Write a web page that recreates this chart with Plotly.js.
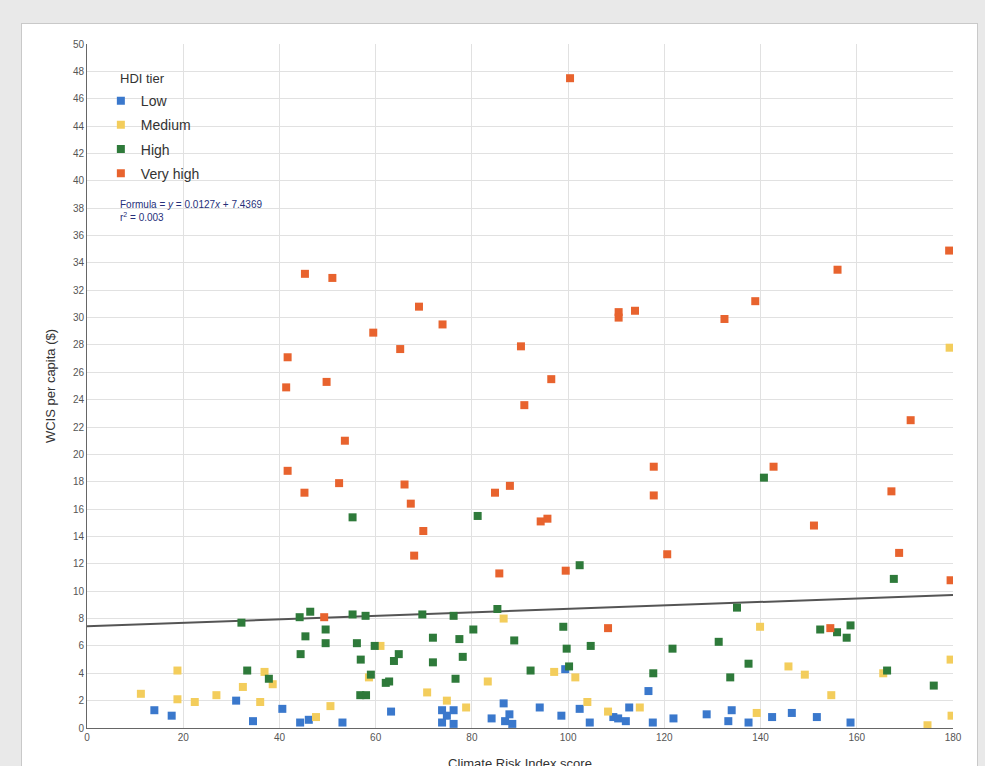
<!DOCTYPE html>
<html>
<head>
<meta charset="utf-8">
<script src="https://cdn.plot.ly/plotly-3.0.1.min.js"></script>
<style>
  html, body { margin: 0; padding: 0; background: #e9e9e9; overflow: hidden; }
  #card { position: absolute; left: 21px; top: 23px; width: 955px; height: 770px; background: #fff; border: 1px solid #c9c9c9; }
  #chart { width: 955px; height: 770px; }
</style>
</head>
<body>
<div id="card"><div id="chart"></div></div>
<script>
// Climate Risk Index score (x) vs WCIS per capita in $ (y), by HDI tier
const lowX = [14.0,17.6,31.0,34.5,40.6,44.3,46.1,53.1,63.2,73.8,76.2,73.8,76.2,74.8,84.1,86.6,86.9,88.4,87.8,94.1,98.6,99.4,102.4,104.5,109.4,110.4,112.0,112.7,116.7,117.6,121.9,128.8,134.0,133.3,137.5,142.4,146.5,151.7,158.7];
const lowY = [1.3,0.9,2.0,0.5,1.4,0.4,0.6,0.4,1.2,1.3,1.3,0.4,0.3,0.9,0.7,1.8,0.5,0.3,1.0,1.5,0.9,4.3,1.4,0.4,0.8,0.7,0.5,1.5,2.7,0.4,0.7,1.0,1.3,0.5,0.4,0.8,1.1,0.8,0.4];

const medX = [11.2,18.8,18.8,22.4,26.9,32.4,36.0,36.9,38.6,47.6,50.6,58.6,61.0,70.7,74.8,78.8,83.3,86.6,97.1,101.5,104.0,108.3,114.9,139.9,139.2,145.8,149.2,154.7,165.5,179.5,179.7,174.7,179.3];
const medY = [2.5,4.2,2.1,1.9,2.4,3.0,1.9,4.1,3.2,0.8,1.6,3.7,6.0,2.6,2.0,1.5,3.4,8.0,4.1,3.7,1.9,1.2,1.5,7.4,1.1,4.5,3.9,2.4,4.0,5.0,0.9,0.2,27.8];

const highX = [32.1,33.3,37.8,44.2,46.4,45.4,44.4,49.6,49.6,55.2,57.9,56.1,56.9,56.8,58.0,59.8,59.0,62.1,62.8,63.8,64.8,69.7,71.9,71.9,76.2,77.4,78.1,76.6,80.3,85.3,88.8,92.2,55.2,81.2,102.4,99.0,99.7,100.2,104.7,117.7,121.7,131.3,135.1,133.7,137.5,140.7,152.4,155.9,157.9,158.7,166.3,167.7,176.0];
const highY = [7.7,4.2,3.6,8.1,8.5,6.7,5.4,7.2,6.2,8.3,8.2,6.2,5.0,2.4,2.4,6.0,3.9,3.3,3.4,4.9,5.4,8.3,6.6,4.8,8.2,6.5,5.2,3.6,7.2,8.7,6.4,4.2,15.4,15.5,11.9,7.4,5.8,4.5,6.0,4.0,5.8,6.3,8.8,3.7,4.7,18.3,7.2,7.0,6.6,7.5,4.2,10.9,3.1];

const vhighX = [100.4,45.3,51.0,41.7,41.4,41.7,45.2,49.8,53.6,52.4,59.5,65.1,66.0,67.3,69.0,73.9,69.9,68.0,84.8,87.9,85.7,90.2,90.9,96.5,94.3,95.7,99.5,49.3,108.3,110.5,110.5,113.9,117.8,117.8,120.6,132.5,138.9,142.7,151.1,154.5,156.0,167.2,168.8,171.2,179.2,179.5];
const vhighY = [47.5,33.2,32.9,27.1,24.9,18.8,17.2,25.3,21.0,17.9,28.9,27.7,17.8,16.4,30.8,29.5,14.4,12.6,17.2,17.7,11.3,27.9,23.6,25.5,15.1,15.3,11.5,8.1,7.3,30.4,30.0,30.5,19.1,17.0,12.7,29.9,31.2,19.1,14.8,7.3,33.5,17.3,12.8,22.5,34.9,10.8];

// Trend line endpoints
const trendX = [0, 180];
const trendY = [7.44, 9.72];

const tierNames = ['Low', 'Medium', 'High', 'Very high'];
const tierColors = ['#3a78cc', '#f3cd5c', '#2e7a3a', '#e8632e'];
const xTicks = [0,20,40,60,80,100,120,140,160,180];
const yTicks = [0,2,4,6,8,10,12,14,16,18,20,22,24,26,28,30,32,34,36,38,40,42,44,46,48,50];

const series = [[lowX,lowY],[medX,medY],[highX,highY],[vhighX,vhighY]];
const traces = [{
  x: trendX, y: trendY, mode: 'lines', type: 'scatter',
  line: {color: '#555555', width: 2}, showlegend: false, hoverinfo: 'skip'
}];
series.forEach((s, i) => {
  traces.push({
    x: s[0], y: s[1], mode: 'markers', type: 'scatter', name: tierNames[i],
    legendgroup: 'g' + i,
    marker: {symbol: 'square', size: 8, color: tierColors[i], line: {width: 0}}
  });
});

const layout = {
  width: 955, height: 770,
  margin: {l: 65, r: 24, t: 20, b: 66},
  paper_bgcolor: '#ffffff', plot_bgcolor: '#ffffff',
  font: {family: 'Liberation Sans, Arial, sans-serif', color: '#444'},
  xaxis: {
    range: [0, 180], tickvals: xTicks, ticktext: xTicks.map(String),
    showgrid: true, gridcolor: '#e1e1e1', zeroline: false,
    showline: true, linecolor: '#666', linewidth: 1,
    ticks: '', tickfont: {size: 10, color: '#555'},
    title: {text: 'Climate Risk Index score', font: {size: 13, color: '#333'}, standoff: 16}
  },
  yaxis: {
    range: [0, 50], tickvals: yTicks, ticktext: yTicks.map(String),
    showgrid: true, gridcolor: '#e1e1e1', zeroline: false,
    showline: true, linecolor: '#666', linewidth: 1,
    ticks: '', tickfont: {size: 10, color: '#555'},
    title: {text: 'WCIS per capita ($)', font: {size: 13, color: '#333'}, standoff: 14}
  },
  showlegend: true,
  legend: {
    x: 0.016, y: 0.94, xanchor: 'left', yanchor: 'top',
    bgcolor: 'rgba(0,0,0,0)', font: {size: 14, color: '#333'},
    tracegroupgap: 3, itemwidth: 30
  },
  shapes: [{
    type: 'rect', xref: 'paper', yref: 'paper', layer: 'between',
    x0: 0.013, x1: 0.282, y0: 0.724, y1: 0.98,
    fillcolor: '#ffffff', line: {width: 0}
  }],
  annotations: [
    {xref: 'paper', yref: 'paper', x: 0.036, y: 0.95, xanchor: 'left', yanchor: 'middle',
     text: 'HDI tier', showarrow: false, font: {size: 13, color: '#333'}},
    {xref: 'paper', yref: 'paper', x: 0.036, y: 0.766, xanchor: 'left', yanchor: 'middle',
     text: 'Formula = <i>y</i> = 0.0127<i>x</i> + 7.4369', showarrow: false, font: {size: 10, color: '#26307a'}},
    {xref: 'paper', yref: 'paper', x: 0.036, y: 0.747, xanchor: 'left', yanchor: 'middle',
     text: 'r<sup>2</sup> = 0.003', showarrow: false, font: {size: 10, color: '#26307a'}}
  ]
};

Plotly.newPlot('chart', traces, layout, {displayModeBar: false, staticPlot: true});
</script>
</body>
</html>
